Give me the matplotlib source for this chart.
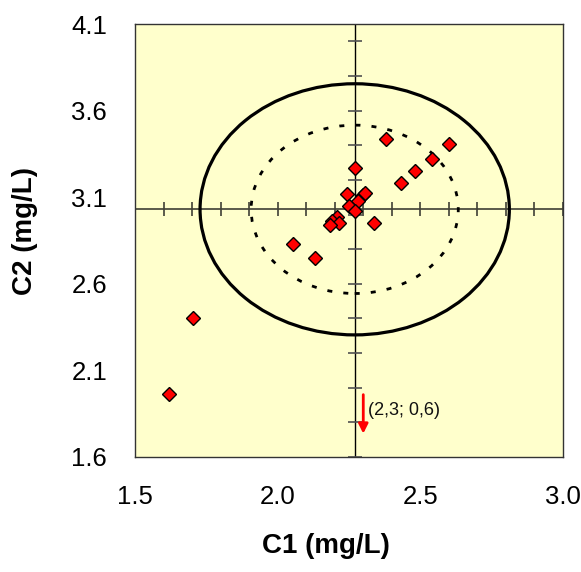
import numpy as np
import matplotlib
matplotlib.use("Agg")
import matplotlib.pyplot as plt
from matplotlib.patches import Ellipse

plt.rcParams['font.family'] = ['Liberation Sans', 'DejaVu Sans']

# Measurements (mg/L)
c1 = [2.381, 2.602, 2.541, 2.481, 2.431, 2.272, 2.242, 2.298, 2.307, 2.283,
      2.251, 2.271, 2.207, 2.192, 2.215, 2.184, 2.339, 2.053, 2.131, 1.702, 1.620]
c2 = [3.438, 3.409, 3.319, 3.250, 3.180, 3.269, 3.118, 3.113, 3.126, 3.080,
      3.049, 3.022, 2.984, 2.964, 2.949, 2.940, 2.949, 2.828, 2.747, 2.401, 1.964]

# Off-scale result, marked with an arrow
outlier = (2.3, 0.6)
outlier_label = "(2,3; 0,6)"

# Assigned values and ellipse half-axes
center = (2.27, 3.03)
outer_axes = (0.542, 0.725)
inner_axes = (0.363, 0.486)

x_ticks = [1.5, 2.0, 2.5, 3.0]
y_ticks = [1.6, 2.1, 2.6, 3.1, 3.6, 4.1]
x_cross_ticks = np.round(np.arange(1.5, 3.0001, 0.1), 2)
y_cross_ticks = np.round(np.arange(1.6, 4.1001, 0.2), 2)

fig = plt.figure(figsize=(5.81, 5.72), dpi=100)
ax = fig.add_axes([135 / 581, 1 - 457 / 572, 428 / 581, 433 / 572])
ax.set_facecolor('#FFFFCC')
ax.set_xlim(1.5, 3.0)
ax.set_ylim(1.6, 4.1)

# crosshair through the assigned values
ax.axhline(center[1], color='#5a5a4a', lw=1.4, zorder=2)
ax.axvline(center[0], color='black', lw=1.0, zorder=2)
ax.plot(x_cross_ticks, [center[1]] * len(x_cross_ticks), ls='', marker='|',
        ms=9.5, mew=1.2, color='#404035', zorder=2)
ax.plot([center[0]] * len(y_cross_ticks), y_cross_ticks, ls='', marker='_',
        ms=10, mew=1.2, color='#505050', zorder=2)

# ellipses
ax.add_patch(Ellipse(center, 2 * outer_axes[0], 2 * outer_axes[1], fill=False,
                     ec='black', lw=2.3, zorder=3))
ax.add_patch(Ellipse(center, 2 * inner_axes[0], 2 * inner_axes[1], fill=False,
                     ec='black', lw=2.0, ls=(0, (1.8, 4.0)), zorder=3))

# points
ax.plot(c1, c2, ls='', marker='D', ms=7.3, mfc='#FF0000', mec='black', mew=1.0,
        zorder=5)

# off-scale arrow
ax.annotate('', xy=(outlier[0], 1.735), xytext=(outlier[0], 1.96),
            arrowprops=dict(arrowstyle='-|>', color='#FF0000', lw=2,
                            mutation_scale=14, shrinkA=0, shrinkB=0), zorder=6)
ax.text(outlier[0] + 0.017, 1.867, outlier_label, fontsize=13, va='center',
        ha='left', color='#111111', zorder=6)

ax.set_xticks(x_ticks)
ax.set_xticklabels(['%.1f' % v for v in x_ticks])
ax.set_yticks(y_ticks)
ax.set_yticklabels(['%.1f' % v for v in y_ticks])
ax.tick_params(length=0, labelsize=18.5)
ax.tick_params(axis='y', pad=20)
ax.tick_params(axis='x', pad=20)

for s in ax.spines.values():
    s.set_color('#333333')
    s.set_linewidth(1.0)

ax.set_xlabel('C1 (mg/L)', fontsize=20, fontweight='bold')
ax.set_ylabel('C2 (mg/L)', fontsize=20, fontweight='bold')
ax.xaxis.set_label_coords((326 - 135) / 428, -(533 - 457) / 433)
ax.yaxis.set_label_coords(-(135 - 38) / 428, (457 - 231) / 433)

fig.savefig('out.png', dpi=100)
